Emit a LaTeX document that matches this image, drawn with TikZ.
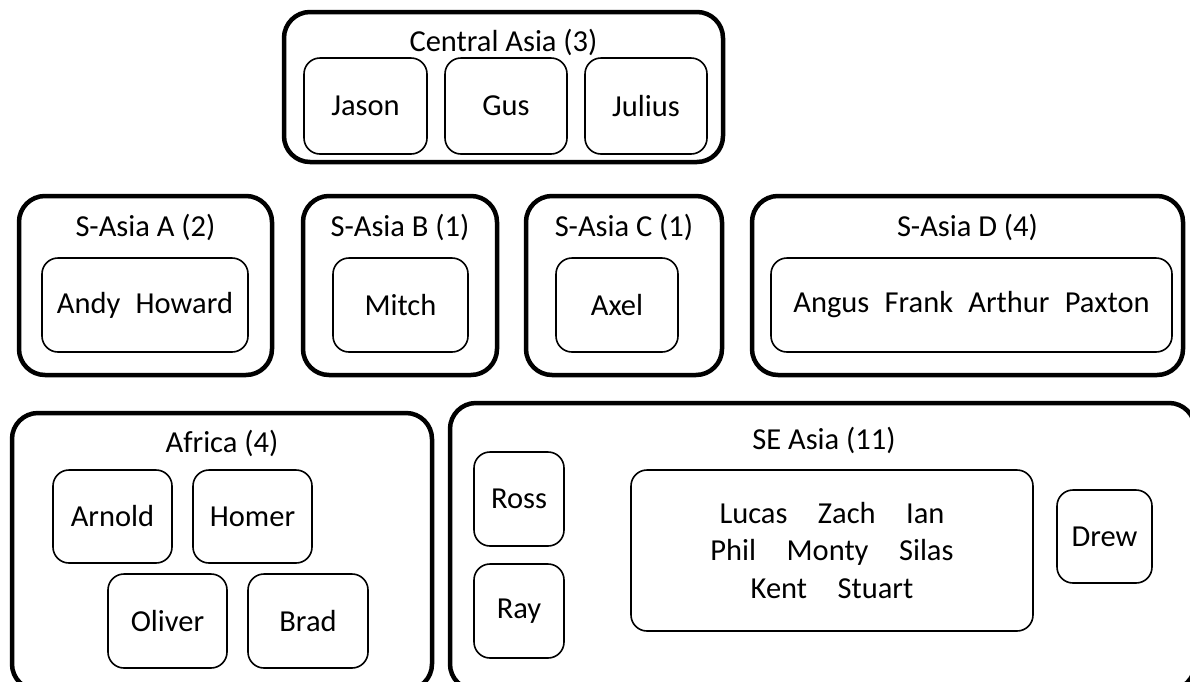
\documentclass[tikz,border=0pt]{standalone}
\usepackage{fontspec}
\setmainfont{Carlito}
\begin{document}
\begin{tikzpicture}[x=1pt,y=-1pt,
  outerbox/.style={draw, line width=4.5pt, rounded corners=26pt, inner sep=0pt},
  innerbox/.style={draw, line width=1.6pt, rounded corners=16pt, inner sep=0pt, align=center},
  title/.style={inner sep=0pt},
  every node/.style={font=\fontsize{30.5}{37.5}\selectfont}]
\useasboundingbox (0,0) rectangle (1190,681);
% Central Asia
\node[outerbox, minimum width=439pt, minimum height=150pt] (ca) at (503.5,87) {};
\node[title] (cat) at (503.5,42) {Central Asia (3)};
\node[innerbox, minimum width=123pt, minimum height=96pt] (jason) at (365.5,106) {Jason};
\node[innerbox, minimum width=122pt, minimum height=96pt] (gus) at (506,106) {Gus};
\node[innerbox, minimum width=122pt, minimum height=96pt] (julius) at (646,106) {Julius};
% S-Asia A
\node[outerbox, minimum width=253pt, minimum height=179pt] (sa) at (145.5,285.5) {};
\node[title] (sat) at (145.5,227) {S-Asia A (2)};
\node[innerbox, minimum width=206pt, minimum height=94pt] (saa) at (145,305) {Andy\hspace{0.5em}Howard};
% S-Asia B
\node[outerbox, minimum width=194pt, minimum height=179pt] (sb) at (400,285.5) {};
\node[title] (sbt) at (400,227) {S-Asia B (1)};
\node[innerbox, minimum width=135pt, minimum height=94pt] (sbb) at (400.5,305) {Mitch};
% S-Asia C
\node[outerbox, minimum width=196pt, minimum height=179pt] (sc) at (624,285.5) {};
\node[title] (sct) at (624,227) {S-Asia C (1)};
\node[innerbox, minimum width=122pt, minimum height=94pt] (scc) at (617,305) {Axel};
% S-Asia D
\node[outerbox, minimum width=431pt, minimum height=179pt] (sd) at (967.5,285.5) {};
\node[title] (sdt) at (967.5,227) {S-Asia D (4)};
\node[innerbox, minimum width=401pt, minimum height=94pt] (sdd) at (971.5,305) {Angus\hspace{0.5em}Frank\hspace{0.5em}Arthur\hspace{0.5em}Paxton};
% Africa
\node[outerbox, minimum width=420pt, minimum height=277pt] (af) at (222,551.5) {};
\node[title] (aft) at (222,443) {Africa (4)};
\node[innerbox, minimum width=119pt, minimum height=93pt] (arnold) at (112.5,516.5) {Arnold};
\node[innerbox, minimum width=119pt, minimum height=93pt] (homer) at (252.5,516.5) {Homer};
\node[innerbox, minimum width=119pt, minimum height=94pt] (oliver) at (167.5,621) {Oliver};
\node[innerbox, minimum width=120pt, minimum height=94pt] (brad) at (308,621) {Brad};
% SE Asia
\node[outerbox, minimum width=745pt, minimum height=287pt] (se) at (822.5,546.5) {};
\node[title] (set) at (824,440) {SE Asia (11)};
\node[innerbox, minimum width=90pt, minimum height=94pt] (ross) at (519,499) {Ross};
\node[innerbox, minimum width=90pt, minimum height=94pt] (ray) at (519,611) {Ray};
\node[innerbox, minimum width=402pt, minimum height=161pt] (big) at (832,550.5) {Lucas\hspace{1em}Zach\hspace{1em}Ian\\Phil\hspace{1em}Monty\hspace{1em}Silas\\Kent\hspace{1em}Stuart};
\node[innerbox, minimum width=95pt, minimum height=93pt] (drew) at (1104.5,536.5) {Drew};
\end{tikzpicture}
\end{document}
